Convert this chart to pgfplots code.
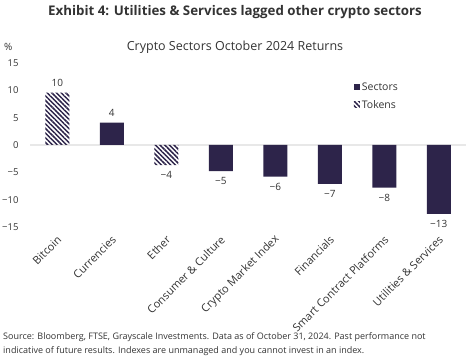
\documentclass[border=0pt]{standalone}
\usepackage{pgfplots}
\pgfplotsset{compat=1.18}
\usepackage{pgfplotstable}
\usepackage{fontspec}
\setmainfont{Open Sans}
\usetikzlibrary{patterns.meta}
\definecolor{navy}{RGB}{45,36,74}
\definecolor{txt}{RGB}{51,51,51}
\definecolor{zl}{RGB}{232,232,232}

\pgfplotstableread{
x y lab
1 4.1 4
3 -4.8 −5
4 -5.8 −6
5 -7.1 −7
6 -7.8 −8
7 -12.6 −13
}\sectors
\pgfplotstableread{
x y lab
0 9.6 10
2 -3.7 −4
}\tokens

\begin{document}
\begin{tikzpicture}
\useasboundingbox (0pt,0pt) rectangle (471pt,363pt);
\node[font=\bfseries\fontsize{13.3}{15}\selectfont, text=txt] at (235pt,351pt) {Exhibit 4: Utilities \& Services lagged other crypto sectors};
\node[font=\fontsize{12.5}{14}\selectfont, text=txt] at (235pt,316pt) {Crypto Sectors October 2024 Returns};
\node[font=\fontsize{10}{11}\selectfont, text=txt, anchor=west, inner sep=0pt] at (4pt,316pt) {\%};
\node[font=\fontsize{9}{14}\selectfont, text=txt, anchor=north west, align=left, inner sep=0pt] at (3pt,31pt) {Source: Bloomberg, FTSE, Grayscale Investments. Data as of October 31, 2024. Past performance not\\indicative of future results. Indexes are unmanaged and you cannot invest in an index.};
\begin{axis}[
  at={(30pt,136pt)}, anchor=south west,
  scale only axis, width=436pt, height=164pt,
  xmin=-0.5, xmax=7.5, ymin=-15, ymax=15,
  axis line style={draw=none},
  ytick={-15,-10,...,15},
  yticklabels={−15,−10,−5,0,5,10,15},
  xtick={0,...,7},
  xticklabels={Bitcoin,Currencies,Ether,Consumer \& Culture,Crypto Market Index,Financials,Smart Contract Platforms,Utilities \& Services},
  major tick length=0pt,
  tick label style={text=txt},
  yticklabel style={font=\fontsize{9.5}{10}\selectfont, xshift=-8pt},
  xticklabel style={font=\fontsize{11}{12}\selectfont, yshift=-10pt, xshift=3pt, rotate=45, anchor=east, inner sep=1pt},
  extra y ticks={0}, extra y tick labels={},
  extra y tick style={grid=major, major grid style={zl, line width=1.3pt}},
  ybar, bar width=24pt, bar shift=0pt,
  nodes near coords,
  point meta=explicit symbolic,
  visualization depends on={y \as \rawy},
  every node near coord/.append style={font=\fontsize{10}{11}\selectfont, text=txt, inner sep=6pt,
    anchor={\ifdim\rawy pt<0pt north\else south\fi}},
  legend style={at={(0.74,0.9)}, anchor=north west, draw=none, fill=none,
    font=\fontsize{10.5}{12}\selectfont, text=txt, row sep=5pt,
    legend cell align=left, inner sep=1pt},
  legend image code/.code={\draw[#1, draw=none] (0pt,-2.5pt) rectangle (6pt,3.5pt);},
]
\addplot[fill=navy, draw=none] table[x=x, y=y, meta=lab] {\sectors};
\addlegendentry{Sectors}
\addplot[draw=none, pattern={Lines[angle=-45, distance=3.3pt, line width=1.5pt]}, pattern color=navy] table[x=x, y=y, meta=lab] {\tokens};
\addlegendentry{Tokens}
\end{axis}
\end{tikzpicture}
\end{document}
